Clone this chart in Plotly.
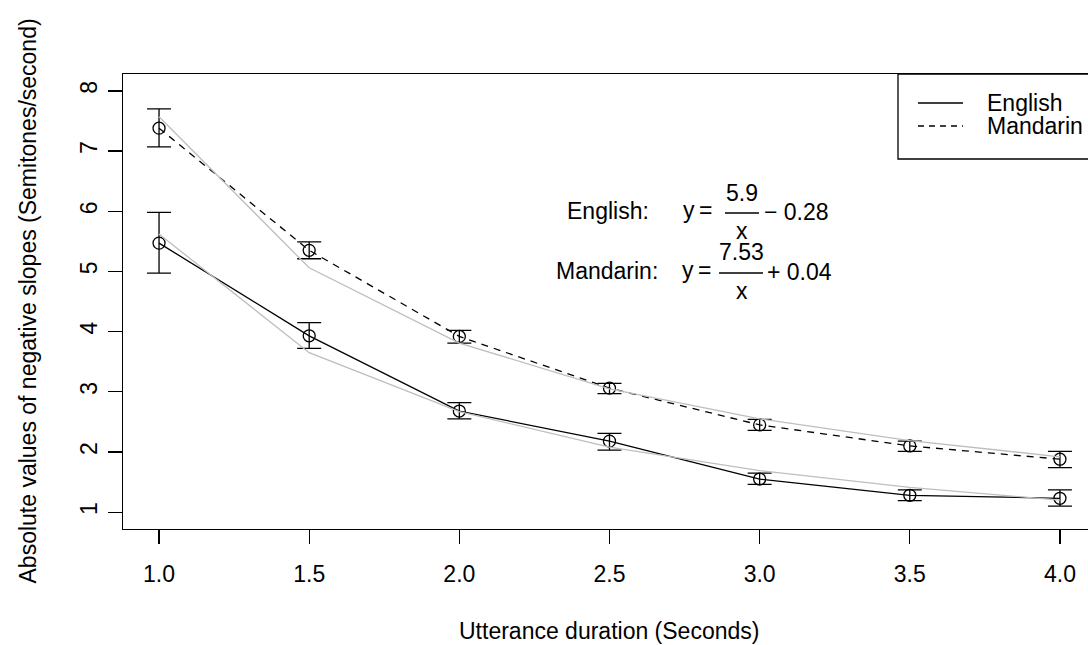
import plotly.graph_objects as go

# ---------------- data ----------------
durations = [1.0, 1.5, 2.0, 2.5, 3.0, 3.5, 4.0]

english_mean = [5.47, 3.93, 2.68, 2.18, 1.55, 1.28, 1.23]
english_upper = [5.98, 4.15, 2.82, 2.31, 1.65, 1.37, 1.37]
english_lower = [4.97, 3.72, 2.55, 2.03, 1.46, 1.19, 1.10]

mandarin_mean = [7.38, 5.35, 3.92, 3.06, 2.45, 2.10, 1.88]
mandarin_upper = [7.70, 5.49, 4.02, 3.14, 2.54, 2.18, 2.01]
mandarin_lower = [7.07, 5.21, 3.81, 2.97, 2.36, 2.01, 1.74]

english_fit = [5.62, 3.65, 2.67, 2.08, 1.69, 1.41, 1.20]
mandarin_fit = [7.57, 5.06, 3.81, 3.05, 2.55, 2.19, 1.92]

x_ticks = [1.0, 1.5, 2.0, 2.5, 3.0, 3.5, 4.0]
y_ticks = [1, 2, 3, 4, 5, 6, 7, 8]

# ---------------- layout constants ----------------
W, H = 1088, 645
PL, PT, PB = 123, 74, 529    # plot box edges in page pixels
ML, MT = PL, PT
MB = H - PB
PW = W - ML
PH = H - MT - MB
X0 = 0.88
XPX = 300.3
XR = [X0, X0 + PW / XPX]
YR = [0.72, 8.28]

FONT = "Liberation Sans, Arial, Helvetica, sans-serif"
FS = 23


def PX(px):
    return (px - PL) / PW


def PY(py):
    return (PB - py) / PH


fig = go.Figure()


def add_series(mean, upper, lower, dash, name):
    fig.add_trace(go.Scatter(
        x=durations, y=mean, mode="lines+markers", name=name,
        line=dict(color="black", width=1.3, dash=dash),
        marker=dict(symbol="circle-open", size=12, color="black",
                    line=dict(width=1.3, color="black")),
        error_y=dict(type="data", symmetric=False,
                     array=[u - m for u, m in zip(upper, mean)],
                     arrayminus=[m - l for m, l in zip(mean, lower)],
                     width=12, thickness=1.3, color="black"),
        showlegend=False, hoverinfo="skip",
    ))


add_series(english_mean, english_upper, english_lower, "solid", "English")
add_series(mandarin_mean, mandarin_upper, mandarin_lower, "7px,6px", "Mandarin")

for fit, nm in [(english_fit, "English fit"), (mandarin_fit, "Mandarin fit")]:
    fig.add_trace(go.Scatter(
        x=durations, y=fit, mode="lines", name=nm,
        line=dict(color="#bebebe", width=1.3), showlegend=False,
        hoverinfo="skip",
    ))

ann = []
shapes = []


def txt(text, px, py, xanchor="center", size=FS, angle=0):
    ann.append(dict(text=text, x=PX(px), y=PY(py), xref="paper", yref="paper",
                    xanchor=xanchor, yanchor="middle", showarrow=False,
                    textangle=angle,
                    font=dict(family=FONT, size=size, color="black")))


def hline(x0, x1, y, dash="solid"):
    shapes.append(dict(type="line", xref="paper", yref="paper",
                       x0=PX(x0), x1=PX(x1), y0=PY(y), y1=PY(y),
                       line=dict(color="black", width=1.3, dash=dash)))


# equations
txt("English:", 608, 211)
txt("y\u2009=", 715, 210, xanchor="right")
txt("5.9", 742, 193)
hline(725, 759, 213)
txt("x", 742, 231)
txt("\u2212 0.28", 762, 212, xanchor="left")

txt("Mandarin:", 607, 271)
txt("y\u2009=", 714, 270, xanchor="right")
txt("7.53", 741, 252)
hline(719, 763, 273)
txt("x", 742, 291)
txt("+ 0.04", 765, 272, xanchor="left")

# legend
shapes.append(dict(type="rect", xref="paper", yref="paper",
                   x0=PX(898), x1=1.05, y0=PY(159), y1=1.0,
                   line=dict(color="black", width=1.3), fillcolor="white",
                   layer="above"))
hline(918, 963, 103)
hline(918, 963, 126, dash="6px,5px")
txt("English", 985, 103, xanchor="left")
txt("Mandarin", 985, 126, xanchor="left")

# axis titles
txt("Utterance duration (Seconds)", PL + (4.12 - X0) * XPX / 2, 631)
txt("Absolute values of negative slopes (Semitones/second)", 27, (PT + PB) / 2,
    angle=-90)

fig.update_layout(
    width=W, height=H,
    margin=dict(l=ML, r=0, t=MT, b=MB, autoexpand=False),
    paper_bgcolor="white", plot_bgcolor="white",
    font=dict(family=FONT, size=FS, color="black"),
    annotations=ann, shapes=shapes, showlegend=False, hovermode=False,
    xaxis=dict(range=XR, tickvals=x_ticks, ticktext=[f"{v:.1f}" for v in x_ticks],
               ticks="outside", ticklen=14, tickwidth=1.3, tickcolor="black",
               showline=True, linecolor="black", linewidth=1.3, mirror=True,
               showgrid=False, zeroline=False, ticklabelstandoff=10,
               tickfont=dict(family=FONT, size=FS, color="black")),
    yaxis=dict(range=YR, tickvals=y_ticks, ticktext=[str(v) for v in y_ticks],
               ticks="outside", ticklen=14, tickwidth=1.3, tickcolor="black",
               showline=True, linecolor="black", linewidth=1.3, mirror=False,
               showgrid=False, zeroline=False, tickangle=-90, ticklabelstandoff=2,
               tickfont=dict(family=FONT, size=FS, color="black")),
)

fig.write_html("out.html",
               config={"displayModeBar": False, "staticPlot": True},
               post_script="document.body.style.margin='0px';"
                           "document.body.style.overflow='hidden';")
